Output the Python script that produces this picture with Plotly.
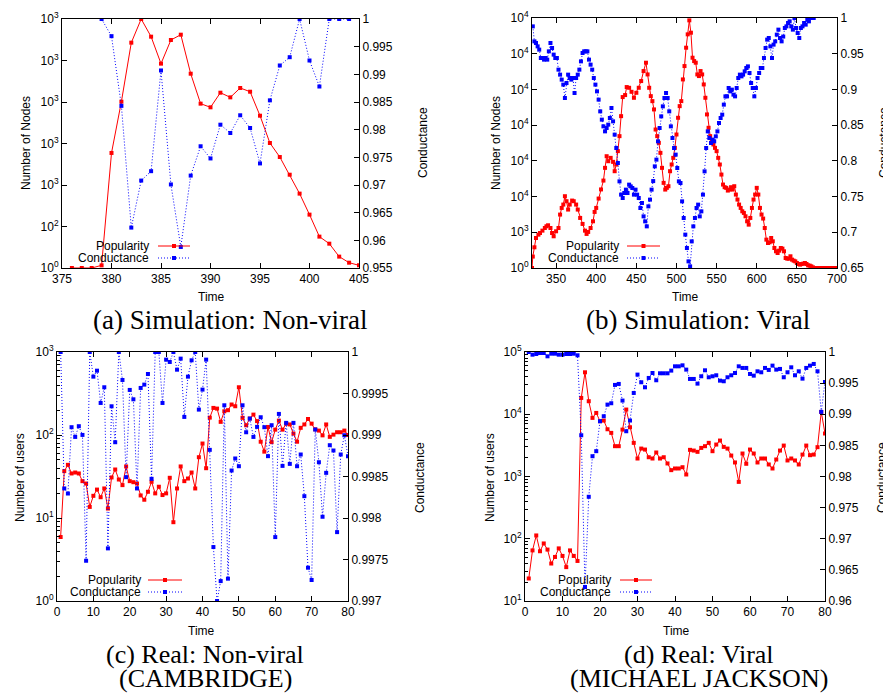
# Popularity vs conductance: 4 panels, each with a dual y-axis
import plotly.graph_objects as go
from plotly.subplots import make_subplots

W, H = 891, 693

# (a) Simulation: Non-viral
a_time = list(range(376, 406))
a_pop = [0, 0, 0, 32, 1386, 2004, 2715, 3000, 2787, 2462,
         2747, 2811, 2341, 1980, 1936, 2112, 2056, 2169, 2124, 1835,
         1506, 1337, 1124, 896, 643, 378, 293, 137, 64, 32]
a_cond_time = list(range(379, 405))
a_cond = [1.0, 0.9969, 0.9843, 0.9623, 0.9708, 0.9725, 0.9907, 0.9701, 0.9588, 0.9717,
          0.9770, 0.9748, 0.9809, 0.9794, 0.9826, 0.9803, 0.9739, 0.9853, 0.9916, 0.9931,
          1.0, 0.9925, 0.9878, 1.0, 1.0, 1.0]

# (b) Simulation: Viral
b_pop_time = [320, 321, 323, 325, 328, 330, 333, 336, 338, 340,
              343, 345, 347, 350, 353, 355, 357, 359, 361, 363,
              365, 367, 370, 372, 375, 377, 380, 383, 386, 388,
              390, 393, 396, 398, 400, 403, 406, 409, 411, 413,
              415, 418, 421, 423, 425, 427, 429, 431, 433, 436,
              438, 441, 444, 447, 450, 453, 456, 459, 462] + list(range(464, 702, 2))
b_pop = [0, 1600, 2900, 4200, 4670, 4900, 5230, 5600, 5840, 5980,
         5600, 4900, 4440, 5140, 5600, 7480, 8410, 8880, 10050, 9350,
         8180, 8880, 9440, 9350, 8880, 8180, 7010, 6170, 5230, 4770,
         5050, 5600, 6540, 7850, 8410, 9720, 11000, 12240, 14020, 15650,
         14950, 15420, 14860, 13550, 14490, 16360, 18460, 21260, 23930, 24210,
         25330, 25230, 24670, 23830, 24530, 25230, 26170, 27570, 28740,
         27100, 25230, 24060, 23360, 22200, 19390, 18460, 17520, 16120, 14020,
         11920, 10980, 11220, 11450, 13550, 14490, 15420, 16820, 18690, 21030,
         22660, 23360, 26400, 28270, 30840, 32710, 34670, 32940, 29440, 28970,
         28740, 27100, 26870, 27570, 27100, 25700, 23830, 21500, 19630, 18460,
         17760, 17290, 16820, 16360, 15420, 14490, 13080, 11680, 11310, 11220,
         10840, 10980, 11310, 10980, 11450, 10280, 9580, 8880, 8410, 7940,
         7710, 7240, 6540, 6070, 7010, 8410, 9580, 10280, 11220, 10280,
         8410, 7480, 6920, 5600, 3970, 3500, 3600, 4200, 3740, 2800,
         2340, 2100, 2430, 2800, 2710, 2340, 1400, 1310, 1310, 1640,
         1170, 1030, 930, 700, 560, 470, 560, 610, 700, 560,
         370, 330, 230, 90, 0, 0, 0, 0, 0, 0,
         0, 0, 0, 0, 0, 0, 0, 0]
b_cond_time = list(range(321, 673, 2))
b_cond = [0.9883, 0.9673, 0.965, 0.9603, 0.9557, 0.944, 0.944, 0.9417, 0.944, 0.9417,
          0.9533, 0.965, 0.958, 0.9487, 0.944, 0.944, 0.9277, 0.9207, 0.9137, 0.9067,
          0.888, 0.909, 0.9207, 0.916, 0.9137, 0.916, 0.895, 0.916, 0.9207, 0.9277,
          0.9393, 0.951, 0.9533, 0.9533, 0.9533, 0.9417, 0.9347, 0.9277, 0.916, 0.9067,
          0.8973, 0.8857, 0.8693, 0.8577, 0.8483, 0.8413, 0.846, 0.8507, 0.86, 0.874,
          0.8553, 0.8367, 0.818, 0.797, 0.7713, 0.7527, 0.748, 0.755, 0.7597, 0.755,
          0.7667, 0.7643, 0.762, 0.7527, 0.7597, 0.7527, 0.748, 0.734, 0.741, 0.7223,
          0.7153, 0.7083, 0.7363, 0.7457, 0.7597, 0.7717, 0.7923, 0.8017, 0.8273, 0.846,
          0.8623, 0.8763, 0.888, 0.895, 0.888, 0.8693, 0.8483, 0.832, 0.818, 0.8087,
          0.79, 0.7713, 0.769, 0.7433, 0.72, 0.6967, 0.678, 0.6593, 0.6523, 0.6873,
          0.7083, 0.72, 0.734, 0.7387, 0.7223, 0.7293, 0.7527, 0.7853, 0.818, 0.8413,
          0.832, 0.825, 0.8297, 0.8273, 0.8343, 0.8413, 0.853, 0.86, 0.8647, 0.8787,
          0.8903, 0.8903, 0.902, 0.8973, 0.8997, 0.8927, 0.8903, 0.902, 0.916, 0.9207,
          0.9183, 0.9207, 0.9253, 0.93, 0.9323, 0.923, 0.909, 0.902, 0.8903, 0.902,
          0.916, 0.923, 0.93, 0.93, 0.944, 0.958, 0.9697, 0.972, 0.9603, 0.944,
          0.9627, 0.9673, 0.9767, 0.9837, 0.972, 0.9673, 0.974, 0.986, 0.9883, 0.993,
          0.9953, 0.9883, 0.9837, 1.0, 0.986, 0.979, 0.972, 0.986, 0.9883, 0.993,
          0.9907, 0.9977, 0.9953, 1.0, 1.0, 1.0]

# (c) Real: Non-viral (CAMBRIDGE)
c_time = list(range(1, 81))
c_pop = [5.9, 36.7, 43.7, 34.4, 35.3, 34.4, 27.8, 26, 13.6, 18.5,
         22, 17.8, 22.7, 13, 30.8, 38.4, 29.1, 24.9, 41.8, 27.8,
         27, 26, 18.7, 16.6, 20.7, 27.3, 19.8, 23.8, 18.9, 19.8,
         30.5, 8.9, 22.7, 41.8, 27.8, 29.9, 35.3, 22.7, 54, 78.9,
         39.8, 162, 212, 208, 144, 193, 199, 233, 222, 376,
         161, 131, 158, 176, 147, 83, 63, 125, 82, 116,
         149, 116, 137, 134, 104, 83, 122, 134, 156, 137,
         117, 113, 99, 134, 95, 101, 108, 108, 113, 100]
c_cond = [1.0, 0.998356, 0.998295, 0.999094, 0.998977, 0.999106, 0.999001, 0.997485, 1.0, 0.999703,
          0.999775, 0.999386, 0.999575, 0.997634, 0.999346, 0.998913, 1.0, 0.999663, 0.998492, 0.999543,
          0.99943, 0.998356, 0.999567, 0.999607, 0.999735, 0.998472, 1.0, 1.0, 0.999386, 0.999908,
          0.99988, 1.0, 0.999787, 0.99992, 0.999218, 0.999703, 0.9999, 1.0, 0.999306, 0.999547,
          0.999908, 0.998821, 0.99765, 0.997, 0.99724, 0.999358, 0.997269, 0.998572, 0.998717, 0.998624,
          0.999358, 0.999033, 0.999198, 0.998977, 0.999098, 0.999214, 0.999094, 0.998745, 0.999118, 0.99777,
          0.999254, 0.998628, 0.999146, 0.998652, 0.999146, 0.998624, 0.998765, 0.998263, 0.997401, 0.997253,
          0.999066, 0.998672, 0.998015, 0.998544, 0.998877, 0.998813, 0.99783, 0.998765, 0.998997, 0.998745]

# (d) Real: Viral (MICHAEL JACKSON)
d_time = list(range(1, 81))
d_pop = [23, 65, 113, 63, 84, 67, 40, 51, 70, 53,
         35, 65, 53, 44, 18300, 47200, 16200, 8740, 10500, 7730,
         7910, 5740, 5020, 3070, 3070, 5670, 11900, 6180, 3470, 1945,
         2810, 2710, 2040, 1945, 2430, 1945, 2040, 1620, 1265, 1345,
         1345, 1410, 1077, 2680, 2610, 2490, 2880, 3070, 3470, 2550,
         3260, 3780, 2990, 2810, 2170, 1680, 820, 2340, 1600, 2710,
         2340, 1680, 1945, 1945, 1560, 1345, 1875, 2610, 3140, 1810,
         1945, 1810, 1560, 2250, 3140, 2200, 2250, 2960, 10900, 4900]
d_cond = [1.0, 0.99957, 0.99968, 0.99984, 0.99984, 0.99931, 0.99973, 0.99973, 0.99957, 0.99957,
          0.99968, 0.99968, 0.99973, 0.99947, 0.98663, 0.96225, 0.97674, 0.98326, 0.98407, 0.98888,
          0.98968, 0.99155, 0.99177, 0.99471, 0.99487, 0.9922, 0.98727, 0.98899, 0.99342, 0.99637,
          0.99514, 0.99433, 0.99583, 0.99663, 0.99546, 0.99658, 0.99658, 0.99658, 0.99701, 0.9977,
          0.9977, 0.99786, 0.99717, 0.99567, 0.99567, 0.99492, 0.9961, 0.99706, 0.99594, 0.9961,
          0.99626, 0.9954, 0.9953, 0.99594, 0.99626, 0.99663, 0.9977, 0.99744, 0.99744, 0.99647,
          0.9962, 0.9969, 0.99674, 0.99744, 0.99712, 0.99781, 0.99717, 0.99728, 0.99594, 0.99674,
          0.99754, 0.99626, 0.9969, 0.99572, 0.99744, 0.99781, 0.99808, 0.9969, 0.99038, 0.99519]

# Tick labels (left axes of (a) and (b) are the odd gnuplot "10^%L" labels)
a_left_vals = [0, 500, 1000, 1500, 2000, 2500, 3000]
a_left_text = ["10<sup>0</sup>", "10<sup>2</sup>"] + ["10<sup>3</sup>"] * 5
b_left_vals = [0, 5000, 10000, 15000, 20000, 25000, 30000, 35000]
b_left_text = ["10<sup>0</sup>", "10<sup>3</sup>"] + ["10<sup>4</sup>"] * 6
a_right_vals = [0.955, 0.96, 0.965, 0.97, 0.975, 0.98, 0.985, 0.99, 0.995, 1.0]
a_right_text = ["0.955", "0.96", "0.965", "0.97", "0.975", "0.98", "0.985", "0.99", "0.995", "1"]
b_right_vals = [0.65, 0.7, 0.75, 0.8, 0.85, 0.9, 0.95, 1.0]
b_right_text = ["0.65", "0.7", "0.75", "0.8", "0.85", "0.9", "0.95", "1"]
c_right_vals = [0.997, 0.9975, 0.998, 0.9985, 0.999, 0.9995, 1.0]
c_right_text = ["0.997", "0.9975", "0.998", "0.9985", "0.999", "0.9995", "1"]
d_right_vals = [0.96, 0.965, 0.97, 0.975, 0.98, 0.985, 0.99, 0.995, 1.0]
d_right_text = ["0.96", "0.965", "0.97", "0.975", "0.98", "0.985", "0.99", "0.995", "1"]

RED = "#ff0000"
BLUE = "#0000ff"
SANS = "Liberation Sans, Arial, sans-serif"
SERIF = "Liberation Serif, Times New Roman, serif"
DOTS = "1px,2px"


def px(x):
    return x / W


def py(y):
    return 1 - y / H


fig = make_subplots(rows=2, cols=2,
                    specs=[[{"secondary_y": True}, {"secondary_y": True}],
                           [{"secondary_y": True}, {"secondary_y": True}]])

panels = [
    (1, 1, a_time, a_pop, a_cond_time, a_cond),
    (1, 2, b_pop_time, b_pop, b_cond_time, b_cond),
    (2, 1, c_time, c_pop, c_time, c_cond),
    (2, 2, d_time, d_pop, d_time, d_cond),
]
for r, c, tp, yp, tc, yc in panels:
    fig.add_trace(go.Scatter(x=tp, y=yp, mode="lines+markers",
                             line=dict(color=RED, width=1),
                             marker=dict(symbol="square", size=4, color=RED),
                             showlegend=False),
                  row=r, col=c, secondary_y=False)
    fig.add_trace(go.Scatter(x=tc, y=yc, mode="lines+markers",
                             line=dict(color=BLUE, width=1, dash=DOTS),
                             marker=dict(symbol="square", size=4, color=BLUE),
                             showlegend=False),
                  row=r, col=c, secondary_y=True)

# no automargin: the frames below are fixed pixel positions
axis_style = dict(showline=True, linecolor="black", linewidth=1, ticks="inside",
                  ticklen=5, tickcolor="black", showgrid=False, zeroline=False,
                  automargin=False,
                  tickfont=dict(family=SANS, size=12, color="black"))
fig.update_xaxes(**axis_style, mirror="ticks")
fig.update_yaxes(**axis_style)

frames = {(1, 1): (54, 351, 11, 260), (1, 2): (524, 829, 10, 260),
          (2, 1): (49, 340, 344, 593), (2, 2): (517, 817, 344, 593)}
for (r, c), (x0, x1, y0, y1) in frames.items():
    fig.update_xaxes(domain=[px(x0), px(x1)], row=r, col=c)
    fig.update_yaxes(domain=[py(y1), py(y0)], row=r, col=c, secondary_y=False)

# x axes
fig.update_xaxes(range=[375, 405], dtick=5, tick0=375, row=1, col=1)
fig.update_xaxes(range=[320, 700], dtick=50, tick0=350, row=1, col=2)
fig.update_xaxes(range=[0, 80], dtick=10, tick0=0, row=2, col=1)
fig.update_xaxes(range=[0, 80], dtick=10, tick0=0, row=2, col=2)

# left y axes
fig.update_yaxes(range=[0, 3000], tickmode="array", tickvals=a_left_vals,
                 ticktext=a_left_text, row=1, col=1, secondary_y=False)
fig.update_yaxes(range=[0, 35000], tickmode="array", tickvals=b_left_vals,
                 ticktext=b_left_text, row=1, col=2, secondary_y=False)
minor_c = [m * 10 ** k for k in range(0, 3) for m in range(2, 10)]
minor_d = [m * 10 ** k for k in range(1, 5) for m in range(2, 10)]
fig.update_yaxes(type="log", range=[0, 3], tickmode="array",
                 tickvals=[1, 10, 100, 1000],
                 ticktext=["10<sup>0</sup>", "10<sup>1</sup>", "10<sup>2</sup>", "10<sup>3</sup>"],
                 minor=dict(ticks="inside", ticklen=3, tickcolor="black",
                            tickmode="array", tickvals=minor_c, showgrid=False),
                 row=2, col=1, secondary_y=False)
fig.update_yaxes(type="log", range=[1, 5], tickmode="array",
                 tickvals=[10, 100, 1000, 10000, 100000],
                 ticktext=["10<sup>1</sup>", "10<sup>2</sup>", "10<sup>3</sup>", "10<sup>4</sup>", "10<sup>5</sup>"],
                 minor=dict(ticks="inside", ticklen=3, tickcolor="black",
                            tickmode="array", tickvals=minor_d, showgrid=False),
                 row=2, col=2, secondary_y=False)

# right y axes
fig.update_yaxes(range=[0.955, 1.0], tickmode="array", tickvals=a_right_vals,
                 ticktext=a_right_text, row=1, col=1, secondary_y=True)
fig.update_yaxes(range=[0.65, 1.0], tickmode="array", tickvals=b_right_vals,
                 ticktext=b_right_text, row=1, col=2, secondary_y=True)
fig.update_yaxes(range=[0.997, 1.0], tickmode="array", tickvals=c_right_vals,
                 ticktext=c_right_text, row=2, col=1, secondary_y=True)
fig.update_yaxes(range=[0.96, 1.0], tickmode="array", tickvals=d_right_vals,
                 ticktext=d_right_text, row=2, col=2, secondary_y=True)

annotations = []


def label(text, x, y, angle=0, size=12, family=SANS, xanchor="center"):
    annotations.append(dict(text=text, x=px(x), y=py(y), xref="paper", yref="paper",
                            showarrow=False, textangle=angle, xanchor=xanchor,
                            yanchor="middle", borderpad=0,
                            font=dict(family=family, size=size, color="black")))


# axis titles
label("Number of Nodes", 18, 135, -90)
label("Number of Nodes", 488, 135, -90)
label("Number of users", 12, 470, -90)
label("Number of users", 482, 470, -90)
label("Conductance", 415, 135, -90)
label("Conductance", 876, 135, -90)
label("Conductance", 412, 470, -90)
label("Conductance", 874, 470, -90)
label("Time", 203, 289)
label("Time", 677, 289)
label("Time", 193, 623)
label("Time", 668, 623)

# captions
label("(a) Simulation: Non-viral", 222, 312, size=27, family=SERIF)
label("(b) Simulation: Viral", 690, 312, size=27, family=SERIF)
label("(c) Real: Non-viral", 197, 646, size=26, family=SERIF)
label("(CAMBRIDGE)", 197, 670, size=26, family=SERIF)
label("(d) Real: Viral", 691, 646, size=26, family=SERIF)
label("(MICHAEL JACKSON)", 691, 670, size=26, family=SERIF)

# in-plot keys (text on the left, sample on the right, gnuplot style)
shapes = []
keys = [(142, 150, 182, 238, 250), (612, 619, 652, 238, 250),
        (134, 140, 174, 572, 584), (604, 612, 644, 572, 584)]
for tx, sx0, sx1, y_pop, y_cond in keys:
    label("Popularity", tx, y_pop, xanchor="right")
    label("Conductance", tx, y_cond, xanchor="right")
    mid = (sx0 + sx1) / 2
    shapes.append(dict(type="line", xref="paper", yref="paper", x0=px(sx0), x1=px(sx1),
                       y0=py(y_pop), y1=py(y_pop), line=dict(color=RED, width=1)))
    shapes.append(dict(type="rect", xref="paper", yref="paper", x0=px(mid - 2), x1=px(mid + 2),
                       y0=py(y_pop + 2), y1=py(y_pop - 2), fillcolor=RED, line=dict(width=0)))
    shapes.append(dict(type="line", xref="paper", yref="paper", x0=px(sx0), x1=px(sx1),
                       y0=py(y_cond), y1=py(y_cond), line=dict(color=BLUE, width=1, dash=DOTS)))
    shapes.append(dict(type="rect", xref="paper", yref="paper", x0=px(mid - 2), x1=px(mid + 2),
                       y0=py(y_cond + 2), y1=py(y_cond - 2), fillcolor=BLUE, line=dict(width=0)))

fig.update_layout(width=W, height=H, margin=dict(l=0, r=0, t=0, b=0),
                  plot_bgcolor="white", paper_bgcolor="white",
                  annotations=annotations, shapes=shapes,
                  font=dict(family=SANS, size=12, color="black"))

fig.write_html("out.html")
